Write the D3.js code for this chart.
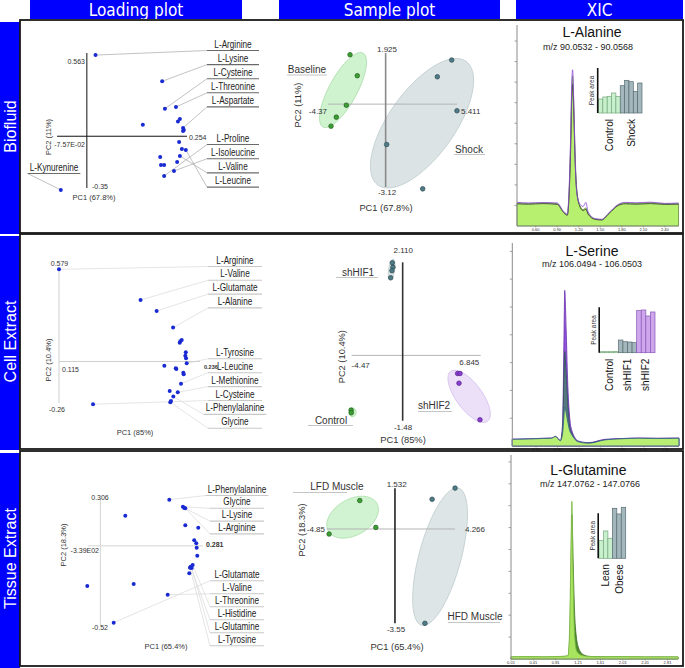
<!DOCTYPE html>
<html>
<head>
<meta charset="utf-8">
<title>Loading plot / Sample plot / XIC</title>
<style>
  body { margin: 0; padding: 0; background: white; }
  svg { display: block; font-family: "Liberation Sans", Arial, sans-serif; }
  .hdr { fill: white; font-family: "Liberation Sans Narrow", "Arial Narrow", "DejaVu Sans Condensed", sans-serif; font-size: 17px; }
  .rowt { fill: white; font-size: 16px; }
  .lname { font-size: 10px; fill: #222; }
  .tick { font-size: 7px; fill: #333; }
  .stick { font-size: 8px; fill: #333; }
  .stitle { font-size: 9.3px; fill: #333; }
  .glabel { font-size: 10px; fill: #333; }
  .xtitle { font-size: 14px; fill: #111; }
  .mz { font-size: 9px; fill: #222; }
  .rtl { font-size: 4px; fill: #333; }
  .pa { font-size: 6.5px; fill: #333; }
  .bcat { font-size: 10px; fill: #111; }
</style>
</head>
<body>
<div id="fig"></div>
<script src="https://cdn.jsdelivr.net/npm/d3@7"></script>
<script>
// ---------- titles ----------
var columnTitles = ["Loading plot", "Sample plot", "XIC"]
var rowTitles = ["Biofluid", "Cell Extract", "Tissue Extract"]

// ---------- loading plots (PC1 / PC2 loadings) ----------
var bioPC1 = [0.022, 0.191, 0.198, 0.226, 0.142, 0.231, 0.236, 0.244, 0.246, 0.244, 0.234, 0.241, 0.251, 0.186, 0.236, 0.229, 0.188, 0.196, 0.221, 0.196, -0.066]
var bioPC2 = [0.549, 0.372, 0.186, 0.198, 0.078, 0.099, 0.117, 0.056, 0.042, 0.036, -0.039, -0.086, -0.093, -0.140, -0.133, -0.174, -0.194, -0.194, -0.235, -0.269, -0.363]
var bioNames = ["L-Arginine", "L-Lysine", "L-Cysteine", "L-Threonine", "L-Aspartate", "L-Proline", "L-Isoleucine", "L-Valine", "L-Leucine", "L-Kynurenine"]
var bioNamePoint = [0, 1, 2, 3, 7, 19, 18, 14, 12, 20]
var bioLoadTicks = ["-7.57E-02", "0.254", "0.563", "-0.35"]  // x min, x max, y max, y min
var bioAxisTitles = ["PC1 (67.8%)", "PC2 (11%)"]

var cellPC1 = [0.115, 0.185, 0.1988, 0.2129, 0.2191, 0.2203, 0.2186, 0.2238, 0.2234, 0.224, 0.2246, 0.2054, 0.2152, 0.2157, 0.2217, 0.222, 0.2197, 0.21, 0.2169, 0.2131, 0.2111, 0.2105, 0.1442]
var cellPC2 = [0.577, 0.385, 0.316, 0.212, 0.126, 0.135, 0.118, 0.058, 0.036, 0.020, -0.011, -0.026, -0.043, -0.047, -0.070, -0.080, -0.139, -0.185, -0.193, -0.220, -0.247, -0.255, -0.268]
var cellNames = ["L-Arginine", "L-Valine", "L-Glutamate", "L-Alanine", "L-Tyrosine", "L-Leucine", "L-Methionine", "L-Cysteine", "L-Phenylalanine", "Glycine"]
var cellNamePoint = [0, 1, 2, 3, 10, 16, 18, 22, 19, 21]
var cellLoadTicks = ["0.115", "0.236", "0.579", "-0.26"]
var cellAxisTitles = ["PC1 (85%)", "PC2 (10.4%)"]

var tisPC1 = [0.1887, 0.226, 0.2297, 0.2325, 0.0682, 0.2325, 0.268, 0.257, 0.2626, 0.2637, 0.2653, 0.2527, 0.2473, 0.25, 0.2453, 0.2434, -0.0359, 0.0912, 0.1843, 0.0364]
var tisPC2 = [0.297, 0.252, 0.244, 0.242, 0.194, 0.133, 0.117, 0.036, 0.017, -0.012, -0.063, -0.123, -0.134, -0.142, -0.140, -0.176, -0.258, -0.245, -0.314, -0.494]
var tisNames = ["L-Phenylalanine", "Glycine", "L-Lysine", "L-Arginine", "L-Glutamate", "L-Valine", "L-Threonine", "L-Histidine", "L-Glutamine", "L-Tyrosine"]
var tisNamePoint = [0, 1, 2, 3, 19, 18, 11, 12, 13, 14]
var tisLoadTicks = ["-3.39E02", "0.281", "0.306", "-0.52"]
var tisAxisTitles = ["PC1 (65.4%)", "PC2 (18.3%)"]

// ---------- sample plots (scores) ----------
// ellipses: centre pc1, centre pc2, then two semi-axis vectors in PC units
var baselinePC1 = [-2.70, -2.15, -2.98, -3.74, -4.14]
var baselinePC2 = [1.86, 1.07, -0.04, -0.49, -0.83]
var baselineEllipse = [-3.23, 0.53, 1.52, 1.39, 0.93, -0.25]
var shockPC1 = [5.01, 3.92, 5.41, 0.08, 2.81]
var shockPC2 = [1.66, 1.03, -0.25, -1.52, -3.19]
var shockEllipse = [2.76, -0.72, 3.34, 2.33, 2.04, -0.72]
var bioSampleTicks = ["-4.37", "5.411", "1.925", "-3.12"]

var controlPC1 = [-4.52, -4.51]
var controlPC2 = [-1.24, -1.30]
var controlEllipse = [-4.40, -1.29, 0, 0.10, 0.31, 0]
var shhif1PC1 = [-0.91, -0.85, -0.94, -1.05]
var shhif1PC2 = [2.10, 2.00, 1.92, 1.76]
var shhif1Ellipse = [-0.965, 1.943, 0.132, 0.238, 0.263, -0.009]
var shhif2PC1 = [4.82, 5.03, 4.94, 6.78]
var shhif2PC2 = [-0.41, -0.41, -0.63, -1.46]
var shhif2Ellipse = [5.83, -0.927, 1.614, -0.565, -0.921, -0.175]
var cellSampleTicks = ["-4.47", "6.845", "2.110", "-1.48"]

var lfdPC1 = [-2.50, -1.36, -4.68]
var lfdPC2 = [1.07, 0.06, -0.19]
var lfdEllipse = [-3.01, 0.444, 1.72, 0.527, 0.640, -0.587]
var hfdPC1 = [4.27, 2.64, 2.13]
var hfdPC2 = [1.54, 1.12, -3.55]
var hfdEllipse = [3.205, -1.043, 1.308, 2.583, 1.443, -0.203]
var tisSampleTicks = ["-4.85", "4.266", "1.532", "-3.55"]

// ---------- XIC traces (retention time, intensity) ----------
var xicTitles = ["L-Alanine", "L-Serine", "L-Glutamine"]
var xicMz = ["m/z 90.0532 - 90.0568", "m/z 106.0494 - 106.0503", "m/z 147.0762 - 147.0766"]

var alaRT = [0.34, 0.5, 0.7, 0.9, 0.98, 1.04, 1.07, 1.09, 1.10, 1.115, 1.13, 1.15, 1.17, 1.21, 1.26, 1.30, 1.33, 1.43, 1.52, 1.62, 1.75, 1.85, 2.0, 2.2, 2.4, 2.59]
var alaGreen = [1.12, 1.10, 1.12, 1.09, 0.72, 0.55, 2.0, 4.5, 6.2, 7.3, 6.0, 3.5, 1.9, 1.05, 0.80, 0.88, 0.62, 0.34, 0.31, 0.62, 1.02, 1.12, 1.10, 1.13, 1.08, 1.09]
var alaGray = [1.08, 1.06, 1.09, 1.05, 0.70, 0.52, 1.8, 4.1, 5.8, 6.9, 5.6, 3.1, 1.8, 1.00, 0.75, 0.82, 0.58, 0.32, 0.29, 0.60, 1.00, 1.08, 1.06, 1.09, 1.05, 1.06]
var alaPurple = [1.15, 1.12, 1.14, 1.12, 0.75, 0.58, 2.2, 4.8, 6.6, 7.6, 6.2, 3.3, 1.7, 1.10, 0.95, 1.15, 0.70, 0.36, 0.33, 0.64, 1.05, 1.15, 1.13, 1.16, 1.10, 1.12]
var alaRTTicks = [0.6, 0.9, 1.2, 1.5, 1.8, 2.1, 2.4]

var serRT = [0.27, 0.5, 0.7, 0.82, 0.87, 0.94, 0.97, 0.99, 1.00, 1.02, 1.04, 1.07, 1.10, 1.19, 1.33, 1.56, 1.8, 2.03, 2.3, 2.59]
var serGreen = [0.24, 0.25, 0.27, 0.28, 0.34, 0.19, 0.45, 1.1, 1.41, 1.2, 0.9, 0.55, 0.40, 0.15, 0.10, 0.22, 0.26, 0.28, 0.27, 0.28]
var serGray = [0.23, 0.24, 0.26, 0.27, 0.33, 0.18, 0.6, 2.6, 3.4, 2.6, 1.6, 0.7, 0.45, 0.15, 0.10, 0.21, 0.25, 0.27, 0.26, 0.27]
var serPurple = [0.25, 0.26, 0.28, 0.29, 0.35, 0.20, 0.8, 4.0, 5.6, 4.2, 2.4, 1.0, 0.55, 0.18, 0.12, 0.24, 0.27, 0.29, 0.28, 0.29]
var serRTTicks = [0.6, 0.9, 1.2, 1.5, 1.8, 2.1, 2.4]

var glnRT = [0.01, 0.3, 0.6, 0.9, 1.03, 1.06, 1.08, 1.10, 1.12, 1.15, 1.18, 1.22, 1.26, 1.32, 1.4, 1.6, 2.0, 2.4, 3.0]
var glnLight = [0.10, 0.11, 0.10, 0.12, 0.15, 1.5, 4.5, 7.2, 4.0, 1.0, 0.4, 0.25, 0.18, 0.14, 0.12, 0.10, 0.11, 0.10, 0.10]
var glnDark = [0.09, 0.10, 0.09, 0.11, 0.13, 1.0, 3.5, 6.6, 4.6, 2.0, 1.0, 0.5, 0.3, 0.18, 0.12, 0.10, 0.10, 0.09, 0.09]
var glnRTTicks = [0.01, 0.41, 0.81, 1.21, 1.61, 2.01, 2.41, 2.81]

// ---------- inset peak areas ----------
var alaControlArea = [42, 48, 50, 60, 50]
var alaShockArea = [82, 98, 94, 65, 90]
var serControlArea = [3, 3, 3, 4]
var serShhif1Area = [38, 33, 32, 30]
var serShhif2Area = [126, 128, 110, 122]
var glnLeanArea = [53, 82, 60]
var glnObeseArea = [150, 133, 153]

// =====================================================
var W = 685, H = 668
var svg = d3.select("#fig").append("svg").attr("width", W).attr("height", H)

var rows = [{ top: 20, bottom: 233 }, { top: 234, bottom: 449 }, { top: 451, bottom: 666 }]

// header boxes
var headerBoxes = [[30, 242], [279, 500], [516, 683]]
headerBoxes.forEach(function (b, i) {
  svg.append("rect").attr("x", b[0]).attr("y", 0).attr("width", b[1] - b[0]).attr("height", 19).attr("fill", "#0000ff")
  svg.append("text").attr("class", "hdr").attr("x", (b[0] + b[1]) / 2).attr("y", 15.5)
    .attr("text-anchor", "middle").text(columnTitles[i])
})

// row side bars
rows.forEach(function (r, i) {
  var bottom = i == 2 ? 668 : r.bottom + 1
  svg.append("rect").attr("x", 0).attr("y", r.top + 2).attr("width", 20).attr("height", bottom - r.top - 2).attr("fill", "#0000ff")
  svg.append("text").attr("class", "rowt").attr("text-anchor", "middle")
    .attr("transform", "translate(16," + ((r.top + r.bottom) / 2) + ") rotate(-90)")
    .text(rowTitles[i])
})

function slots(cx, y0, step, n) {
  return d3.range(n).map(function (i) { return [cx, y0 + i * step] })
}

var squeeze = 0.82  // labels in the reference use a condensed face

// ---------------- loading plots ----------------
function drawLoading(o) {
  var x = d3.scaleLinear().domain(o.xDomain).range(o.xRange)
  var y = d3.scaleLinear().domain(o.yDomain).range(o.yRange)
  var g = svg.append("g")
  var vx = x(Math.max(0, o.xDomain[0]))

  var leaders = g.append("g"), under = g.append("g"), labels = g.append("g")

  o.names.forEach(function (name, i) {
    var s = o.slots[i], p = o.namePoint[i]
    var t = labels.append("text").attr("class", "lname")
      .attr("transform", "translate(" + s[0] + "," + (s[1] + 3.5) + ") scale(" + squeeze + ",1)")
      .attr("text-anchor", "middle").text(name)
    var half = Math.max(o.lineHalf, t.node().getComputedTextLength() * squeeze / 2 + 2)
    var ux0 = s[0] - half, ux1 = s[0] + half, uy = s[1] + 6.5
    leaders.append("line")
      .attr("x1", x(o.pc1[p])).attr("y1", y(o.pc2[p]))
      .attr("x2", ux0).attr("y2", uy)
      .attr("stroke", o.leadColor).attr("stroke-width", 0.7)
    under.append("line").attr("x1", ux0).attr("x2", ux1).attr("y1", uy).attr("y2", uy)
      .attr("stroke", o.underColor).attr("stroke-width", 1.1)
  })

  g.append("line").attr("x1", vx).attr("x2", vx).attr("y1", o.yRange[1]).attr("y2", o.yRange[0])
    .attr("stroke", o.axisColor).attr("stroke-width", 1)
  g.append("line").attr("x1", o.xRange[0]).attr("x2", o.xRange[1]).attr("y1", y(0)).attr("y2", y(0))
    .attr("stroke", o.axisColor).attr("stroke-width", 1)

  o.tickPos.forEach(function (p, i) {
    g.append("text").attr("class", "tick").attr("x", p[0]).attr("y", p[1]).attr("text-anchor", p[2])
      .style("font-size", p[3] || null).style("font-weight", p[4] || null).text(o.ticks[i])
  })
  g.append("text").attr("class", "tick").attr("x", o.pc1Pos[0]).attr("y", o.pc1Pos[1])
    .attr("text-anchor", "middle").style("font-size", "7.5px").text(o.titles[0])
  g.append("text").attr("class", "tick").attr("text-anchor", "middle").style("font-size", "7.5px")
    .attr("transform", "translate(" + o.pc2Pos[0] + "," + o.pc2Pos[1] + ") rotate(-90)").text(o.titles[1])

  g.append("g").selectAll("circle").data(o.pc1).enter().append("circle")
    .attr("cx", function (d) { return x(d) })
    .attr("cy", function (d, i) { return y(o.pc2[i]) })
    .attr("r", 2)
    .attr("fill", "#1a2ad2")
}

drawLoading({
  pc1: bioPC1, pc2: bioPC2, names: bioNames, namePoint: bioNamePoint, ticks: bioLoadTicks, titles: bioAxisTitles,
  xDomain: [-0.0757, 0.254], xRange: [57, 187], yDomain: [-0.35, 0.563], yRange: [188, 53],
  axisColor: "#111", leadColor: "#a8a8a8", underColor: "#6a6a6a", lineHalf: 26,
  slots: slots(233, 44, 14.1, 5).concat(slots(233, 138, 14.2, 4)).concat([[54, 167]]),
  tickPos: [[85, 147, "end"], [189, 140, "start"], [85, 63.5, "end"], [92, 188.5, "start"]],
  pc1Pos: [94, 199.5], pc2Pos: [51, 137]
})
drawLoading({
  pc1: cellPC1, pc2: cellPC2, names: cellNames, namePoint: cellNamePoint, ticks: cellLoadTicks, titles: cellAxisTitles,
  xDomain: [0.115, 0.236], xRange: [59, 200], yDomain: [-0.26, 0.579], yRange: [403, 269],
  axisColor: "#cfcfcf", leadColor: "#dadada", underColor: "#c8c8c8", lineHalf: 27,
  slots: slots(235, 260, 13.8, 4).concat(slots(235, 352.3, 13.9, 6)),
  tickPos: [[62, 372, "start"], [204, 369, "start", "5.5px", "bold"], [59.5, 266, "middle"], [57, 412, "middle"]],
  pc1Pos: [135, 435], pc2Pos: [51, 360]
})
drawLoading({
  pc1: tisPC1, pc2: tisPC2, names: tisNames, namePoint: tisNamePoint, ticks: tisLoadTicks, titles: tisAxisTitles,
  xDomain: [-0.0339, 0.281], xRange: [88, 203], yDomain: [-0.52, 0.306], yRange: [626.7, 498.3],
  axisColor: "#d4d4d4", leadColor: "#d8d8d8", underColor: "#c8c8c8", lineHalf: 27,
  slots: slots(237, 489, 12.8, 4).concat(slots(237, 574.3, 13, 6)),
  tickPos: [[99, 553, "end"], [206, 547, "start", "7px", "bold"], [100, 499.5, "middle"], [100, 630, "middle"]],
  pc1Pos: [166, 649], pc2Pos: [66, 545]
})

// ---------------- sample plots ----------------
function drawSample(o) {
  var x = d3.scaleLinear().domain(o.xDomain).range(o.xRange)
  var y = d3.scaleLinear().domain(o.yDomain).range(o.yRange)
  var g = svg.append("g")
  var ell = d3.line().curve(d3.curveLinearClosed)

  o.groups.forEach(function (gr) {
    var e = gr.ellipse
    var pts = d3.range(0, 72).map(function (k) {
      var t = k / 72 * 2 * Math.PI
      return [x(e[0] + Math.cos(t) * e[2] + Math.sin(t) * e[4]),
              y(e[1] + Math.cos(t) * e[3] + Math.sin(t) * e[5])]
    })
    g.append("path").attr("d", ell(pts)).attr("fill", gr.efill).attr("fill-opacity", 0.75)
      .attr("stroke", gr.estroke).attr("stroke-width", 0.8)
  })

  g.append("line").attr("x1", o.xRange[0]).attr("x2", o.xRange[1]).attr("y1", y(0)).attr("y2", y(0))
    .attr("stroke", "#b4b4b4").attr("stroke-width", 1)
  g.append("line").attr("x1", x(0)).attr("x2", x(0)).attr("y1", o.yRange[1]).attr("y2", o.yRange[0])
    .attr("stroke", o.vColor).attr("stroke-width", 1.6)

  o.tickPos.forEach(function (p, i) {
    g.append("text").attr("class", "stick").attr("x", p[0]).attr("y", p[1]).attr("text-anchor", p[2]).text(o.ticks[i])
  })
  g.append("text").attr("class", "stitle").attr("x", o.pc1Pos[0]).attr("y", o.pc1Pos[1])
    .attr("text-anchor", "middle").text(o.titles[0])
  g.append("text").attr("class", "stitle").attr("text-anchor", "middle")
    .attr("transform", "translate(" + o.pc2Pos[0] + "," + o.pc2Pos[1] + ") rotate(-90)").text(o.titles[1])

  o.groups.forEach(function (gr) {
    g.append("g").selectAll("circle").data(gr.pc1).enter().append("circle")
      .attr("cx", function (d) { return x(d) })
      .attr("cy", function (d, i) { return y(gr.pc2[i]) })
      .attr("r", 2.3)
      .attr("fill", gr.color).attr("stroke", gr.dark).attr("stroke-width", 0.7)
    var L = gr.label
    g.append("text").attr("class", "glabel").attr("x", L[0]).attr("y", L[1] + 3.6)
      .attr("text-anchor", "middle").text(gr.name)
    g.append("line").attr("x1", L[2]).attr("x2", L[3]).attr("y1", L[4]).attr("y2", L[4])
      .attr("stroke", "#c4c4c4").attr("stroke-width", 1)
  })
}

var greenDot = "#3c9e35", greenDark = "#1f5f1a", grayDot = "#4f7b86", grayDark = "#2b4a52", purpleDot = "#8a3ed0", purpleDark = "#55208a"

drawSample({
  xDomain: [-4.37, 5.411], xRange: [328, 457], yDomain: [-3.12, 1.925], yRange: [187, 53],
  vColor: "#8a8a8a", ticks: bioSampleTicks, titles: bioAxisTitles,
  tickPos: [[327, 114, "end"], [461, 114, "start"], [387, 52, "middle"], [387, 195, "middle"]],
  pc1Pos: [386, 211], pc2Pos: [300.5, 105],
  groups: [
    { name: "Baseline", pc1: baselinePC1, pc2: baselinePC2, ellipse: baselineEllipse, efill: "#bfeebf", estroke: "#a6dca6", color: greenDot, dark: greenDark, label: [307, 69, 287, 327, 75] },
    { name: "Shock", pc1: shockPC1, pc2: shockPC2, ellipse: shockEllipse, efill: "#cfdadc", estroke: "#bccacd", color: grayDot, dark: grayDark, label: [469, 149, 454, 485, 154.5] }
  ]
})
drawSample({
  xDomain: [-4.47, 6.845], xRange: [351.7, 480.7], yDomain: [-1.48, 2.11], yRange: [420.7, 262.3],
  vColor: "#333", ticks: cellSampleTicks, titles: cellAxisTitles,
  tickPos: [[360.7, 368, "middle"], [469.3, 365, "middle"], [403.3, 253, "middle"], [403, 430, "middle"]],
  pc1Pos: [403, 442.5], pc2Pos: [345, 356.7],
  groups: [
    { name: "Control", pc1: controlPC1, pc2: controlPC2, ellipse: controlEllipse, efill: "#b6eeb6", estroke: "#9ad89a", color: greenDot, dark: greenDark, label: [331, 420, 308, 353, 425.5] },
    { name: "shHIF1", pc1: shhif1PC1, pc2: shhif1PC2, ellipse: shhif1Ellipse, efill: "#cddadd", estroke: "#b8c8cb", color: grayDot, dark: grayDark, label: [358, 272.7, 336, 378, 277.5] },
    { name: "shHIF2", pc1: shhif2PC1, pc2: shhif2PC2, ellipse: shhif2Ellipse, efill: "#e6d6f6", estroke: "#d2bdec", color: purpleDot, dark: purpleDark, label: [434, 405.7, 418, 452, 411.5] }
  ]
})
drawSample({
  xDomain: [-4.85, 4.266], xRange: [326.7, 455], yDomain: [-3.55, 1.532], yRange: [623.3, 488.3],
  vColor: "#222", ticks: tisSampleTicks, titles: tisAxisTitles,
  tickPos: [[325, 532, "end"], [465, 532, "start"], [396.7, 486.5, "middle"], [396, 631.5, "middle"]],
  pc1Pos: [397, 650], pc2Pos: [305, 530],
  groups: [
    { name: "LFD Muscle", pc1: lfdPC1, pc2: lfdPC2, ellipse: lfdEllipse, efill: "#c2efc2", estroke: "#a8dea8", color: greenDot, dark: greenDark, label: [337, 486.7, 293, 347, 492.5] },
    { name: "HFD Muscle", pc1: hfdPC1, pc2: hfdPC2, ellipse: hfdEllipse, efill: "#d2dcde", estroke: "#bccacd", color: grayDot, dark: grayDark, label: [475, 616.7, 448, 500, 622.5] }
  ]
})

// ---------------- XIC panels ----------------
function drawXIC(o) {
  var x = d3.scaleLinear().domain(o.rtDomain).range(o.xRange)
  var y = d3.scaleLinear().domain([0, o.yMax]).range(o.yRange)
  var g = svg.append("g")
  var y0 = o.yRange[0]

  // traces
  o.traces.forEach(function (tr) {
    var pts = o.rt.map(function (r, i) { return [r, tr.v[i]] })
    if (tr.fill) {
      g.append("path").datum(pts)
        .attr("d", d3.area().x(function (d) { return x(d[0]) }).y0(y0).y1(function (d) { return y(d[1]) }).curve(d3.curveMonotoneX))
        .attr("fill", tr.fill).attr("stroke", tr.stroke || "none").attr("stroke-width", 0.8)
    } else {
      g.append("path").datum(pts)
        .attr("d", d3.line().x(function (d) { return x(d[0]) }).y(function (d) { return y(d[1]) }).curve(d3.curveMonotoneX))
        .attr("fill", "none").attr("stroke", tr.stroke).attr("stroke-width", tr.w || 0.8)
    }
  })

  // axes
  g.append("line").attr("x1", o.xRange[0]).attr("x2", o.xRange[0]).attr("y1", o.axisTop).attr("y2", y0)
    .attr("stroke", "#8a8a8a").attr("stroke-width", 1)
  g.selectAll(".yt").data(d3.range(1, o.yMax + 1)).enter().append("line")
    .attr("x1", o.xRange[0] - 2.5).attr("x2", o.xRange[0]).attr("y1", function (d) { return y(d) }).attr("y2", function (d) { return y(d) })
    .attr("stroke", "#8a8a8a").attr("stroke-width", 0.8)
  g.append("line").attr("x1", o.xRange[0]).attr("x2", o.xRange[1]).attr("y1", y0).attr("y2", y0)
    .attr("stroke", "#8a8a8a").attr("stroke-width", 0.8)
  o.rtTicks.forEach(function (t) {
    g.append("line").attr("x1", x(t)).attr("x2", x(t)).attr("y1", y0).attr("y2", y0 + 1.5).attr("stroke", "#777").attr("stroke-width", 0.6)
    g.append("text").attr("class", "rtl").attr("x", x(t)).attr("y", y0 + 4.5).attr("text-anchor", "middle").text(t.toFixed(2))
  })

  // titles
  g.append("text").attr("class", "xtitle").attr("x", o.titlePos[0]).attr("y", o.titlePos[1]).attr("text-anchor", "middle").text(o.title)
  g.append("text").attr("class", "mz").attr("x", o.mzPos[0]).attr("y", o.mzPos[1]).attr("text-anchor", "middle").text(o.mz)

  // inset bar chart
  var bars = []
  o.bars.forEach(function (grp, gi) {
    grp.v.forEach(function (v, k) { bars.push({ g: gi, v: v, key: gi + "-" + k }) })
  })
  var bx = d3.scaleBand().domain(bars.map(function (d) { return d.key })).range(o.barX)
  var by = d3.scaleLinear().domain([0, o.barMax]).range([o.barBottom, o.barTop])
  g.append("g").selectAll("rect").data(bars).enter().append("rect")
    .attr("x", function (d) { return bx(d.key) })
    .attr("y", function (d) { return by(d.v) })
    .attr("width", bx.bandwidth())
    .attr("height", function (d) { return by(0) - by(d.v) })
    .attr("fill", function (d) { return o.bars[d.g].fill })
    .attr("stroke", function (d) { return o.bars[d.g].stroke })
    .attr("stroke-width", 0.7)
  g.append("line").attr("x1", o.barX[0] - 0.8).attr("x2", o.barX[0] - 0.8).attr("y1", o.barTop).attr("y2", o.barBottom)
    .attr("stroke", "#111").attr("stroke-width", 1.6)
  g.append("text").attr("class", "pa").attr("text-anchor", "middle")
    .attr("transform", "translate(" + (o.barX[0] - 4.5) + "," + ((o.barTop + o.barBottom) / 2) + ") rotate(-90)")
    .text("Peak area")
  o.bars.forEach(function (grp, gi) {
    var keys = bars.filter(function (d) { return d.g == gi })
    var cx = (bx(keys[0].key) + bx(keys[keys.length - 1].key) + bx.bandwidth()) / 2
    g.append("text").attr("class", "bcat").attr("text-anchor", "end")
      .attr("transform", "translate(" + (cx + 3.6) + "," + (o.barBottom + 6) + ") rotate(-90)")
      .text(grp.name)
  })
}

drawXIC({
  rt: alaRT, rtDomain: [0.34, 2.59], xRange: [517, 678.5], yMax: 9, yRange: [226, 41], axisTop: 25, rtTicks: alaRTTicks,
  traces: [
    { v: alaGreen, fill: "#b7f06e", stroke: "#5f8f3a" },
    { v: alaGray, stroke: "#3f4a3a", w: 0.9 },
    { v: alaPurple, stroke: "#8c47d8", w: 0.8 }
  ],
  title: xicTitles[0], mz: xicMz[0], titlePos: [592, 37], mzPos: [588, 50],
  bars: [
    { name: "Control", v: alaControlArea, fill: "#c8f0cc", stroke: "#76a87c" },
    { name: "Shock", v: alaShockArea, fill: "#a3b7bc", stroke: "#586d73" }
  ],
  barX: [598.5, 642], barBottom: 113, barTop: 68, barMax: 135
})
drawXIC({
  rt: serRT, rtDomain: [0.27, 2.59], xRange: [512.3, 678.9], yMax: 7, yRange: [446, 251.4], axisTop: 243, rtTicks: serRTTicks,
  traces: [
    { v: serPurple, fill: "#9152da", stroke: "#6a2fb0" },
    { v: serGray, fill: "#56797f", stroke: "#2f4f58" },
    { v: serGreen, fill: "#b8ee72", stroke: "#2f5f8a" }
  ],
  title: xicTitles[1], mz: xicMz[1], titlePos: [592, 255.7], mzPos: [592, 266.5],
  bars: [
    { name: "Control", v: serControlArea, fill: "#c8f0cc", stroke: "#76a87c" },
    { name: "shHIF1", v: serShhif1Area, fill: "#a3b7bc", stroke: "#586d73" },
    { name: "shHIF2", v: serShhif2Area, fill: "#cda6ec", stroke: "#8a58b8" }
  ],
  barX: [600, 655], barBottom: 352.7, barTop: 307.3, barMax: 136
})
drawXIC({
  rt: glnRT, rtDomain: [0.01, 3.0], xRange: [511, 678.1], yMax: 9, yRange: [659, 461.9], axisTop: 455, rtTicks: glnRTTicks,
  traces: [
    { v: glnDark, fill: "#4f8d2c", stroke: "#3a6a20" },
    { v: glnLight, fill: "#a9e45f", stroke: "#7cb845" }
  ],
  title: xicTitles[2], mz: xicMz[2], titlePos: [588.3, 475], mzPos: [590, 486.5],
  bars: [
    { name: "Lean", v: glnLeanArea, fill: "#c8f0cc", stroke: "#76a87c" },
    { name: "Obese", v: glnObeseArea, fill: "#a3b7bc", stroke: "#586d73" }
  ],
  barX: [599, 625.7], barBottom: 558.3, barTop: 513.3, barMax: 135
})

// panel frames on top
rows.forEach(function (r) {
  svg.append("rect").attr("x", 20).attr("y", r.top).attr("width", 663).attr("height", r.bottom - r.top)
    .attr("fill", "none").attr("stroke", "#1a1a1a").attr("stroke-width", 1.8)
})
</script>
</body>
</html>
